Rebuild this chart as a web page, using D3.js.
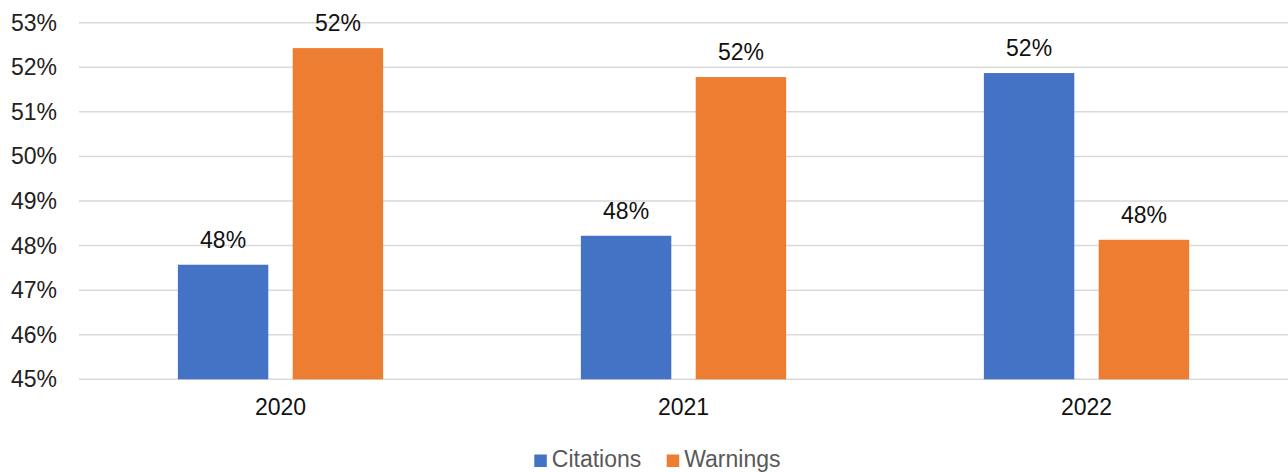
<!DOCTYPE html>
<html><head><meta charset="utf-8">
<script src="https://cdn.jsdelivr.net/npm/d3@7"></script>
<style>body{margin:0;background:#fff}svg{display:block;font-family:"Liberation Sans",Arial,sans-serif}</style>
</head><body><svg id="c" width="1288" height="472"></svg>
<script>
const categories = ["2020", "2021", "2022"];
const seriesNames = ["Citations", "Warnings"];
const citations = [47.57, 48.22, 51.87];
const warnings = [52.43, 51.78, 48.13];
const labelsCitations = ["48%", "48%", "52%"];
const labelsWarnings = ["52%", "52%", "48%"];
const yTicks = [45, 46, 47, 48, 49, 50, 51, 52, 53];
const colors = ["#4472C4", "#ED7D31"];

(function () {
const svg = d3.select("#c");
const pLeft = 79, pRight = 1288, pTop = 22.7, pBottom = 379.3;
const y = d3.scaleLinear().domain([45, 53]).range([pBottom, pTop]);
const x0 = d3.scaleBand().domain(categories).range([pLeft, pRight]).paddingInner(0).paddingOuter(0);
const x1 = d3.scaleBand().domain(seriesNames).range([0, x0.bandwidth()]).paddingInner(0.2125).paddingOuter(0.861);

// grid
svg.append("g").selectAll("line").data(yTicks).join("line")
  .attr("x1", pLeft).attr("x2", pRight)
  .attr("y1", d => y(d)).attr("y2", d => y(d))
  .attr("stroke", "#d9d9d9").attr("stroke-width", 1.5);

// y tick labels
svg.append("g").selectAll("text").data(yTicks).join("text")
  .attr("x", 57).attr("y", d => y(d)).attr("dy", "0.35em")
  .attr("text-anchor", "end").attr("font-size", 23).attr("fill", "#222")
  .text(d => d + "%");

const data = [citations, warnings];
const labels = [labelsCitations, labelsWarnings];
seriesNames.forEach((s, si) => {
  const g = svg.append("g");
  g.selectAll("rect").data(categories).join("rect")
    .attr("x", (c) => x0(c) + x1(s))
    .attr("width", x1.bandwidth())
    .attr("y", (c, i) => y(data[si][i]))
    .attr("height", (c, i) => y(45) - y(data[si][i]))
    .attr("fill", colors[si]);
  g.selectAll("text").data(categories).join("text")
    .attr("x", c => x0(c) + x1(s) + x1.bandwidth() / 2)
    .attr("y", (c, i) => y(data[si][i]) - 17)
    .attr("text-anchor", "middle").attr("font-size", 23).attr("fill", "#111")
    .text((c, i) => labels[si][i]);
});

// x labels
svg.append("g").selectAll("text").data(categories).join("text")
  .attr("x", c => x0(c) + x0.bandwidth() / 2).attr("y", 415)
  .attr("text-anchor", "middle").attr("font-size", 23).attr("fill", "#111")
  .text(c => c);

// legend
const legendItems = [{name: "Citations", x: 534.3}, {name: "Warnings", x: 666.7}];
const lg = svg.append("g");
legendItems.forEach((it, i) => {
  lg.append("rect").attr("x", it.x).attr("y", 454.5).attr("width", 12.5).attr("height", 12.5).attr("fill", colors[i]);
  lg.append("text").attr("x", it.x + 17.5).attr("y", 467).attr("font-size", 23).attr("fill", "#595959").text(it.name);
});
})();
</script></body></html>
